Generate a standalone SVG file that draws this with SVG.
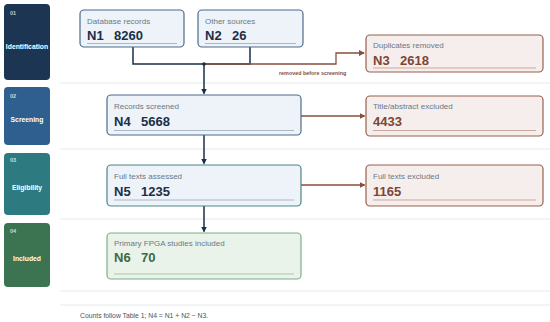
<svg xmlns="http://www.w3.org/2000/svg" width="550" height="322" viewBox="0 0 550 322">
<style>
text{font-family:"Liberation Sans",Arial,sans-serif}
.stg{fill:#fff;font-weight:bold;font-size:6.8px;text-anchor:middle}
.num{fill:#fff;fill-opacity:0.75;font-weight:bold;font-size:5.5px}
.lbl{fill:#6b7785;font-size:8px}
.big{font-weight:bold;font-size:13px}
.nb{fill:#1c2e48}.nr{fill:#7d4535}.ng{fill:#3a6b42}
.bx{fill:#edf3f9;stroke:#4d6b8a;stroke-width:1.2}
.bt{fill:#edf3f8;stroke:#4a8585;stroke-width:1.2}
.br{fill:#f6eeec;stroke:#96604f;stroke-width:1.2}
.bg{fill:#eaf3ea;stroke:#7fae8a;stroke-width:1.2}
.ub{stroke:#aab8c8;stroke-width:1}.ur{stroke:#c9a89e;stroke-width:1}.ug{stroke:#a9c6ad;stroke-width:1}
.sep{stroke:#eef0f2;stroke-width:1.5}
.cd{fill:none;stroke:#1a2e4a;stroke-width:1.5}
.cr{fill:none;stroke:#8a4e3e;stroke-width:1.3}
</style>
<defs>
<marker id="ad" markerWidth="6" markerHeight="6" refX="5" refY="3" orient="auto" markerUnits="userSpaceOnUse"><path d="M0,0 L6,3 L0,6 z" fill="#1a2e4a"/></marker>
<marker id="ar" markerWidth="6" markerHeight="6" refX="5" refY="3" orient="auto" markerUnits="userSpaceOnUse"><path d="M0,0 L6,3 L0,6 z" fill="#8a4e3e"/></marker>
</defs>
<rect width="550" height="322" fill="#ffffff"/>
<g id="separators">
<line class="sep" x1="60" y1="83" x2="550" y2="83"/>
<line class="sep" x1="60" y1="149" x2="550" y2="149"/>
<line class="sep" x1="60" y1="219" x2="550" y2="219"/>
<line class="sep" x1="60" y1="291" x2="550" y2="291"/>
<line class="sep" x1="60" y1="305" x2="550" y2="305"/>
</g>
<g id="stage-identification"><rect x="4" y="4" width="46" height="76" rx="4" fill="#1b3553"/><text class="num" x="10" y="15">01</text><text class="stg" x="27" y="48.5">Identification</text></g>
<g id="stage-screening"><rect x="4" y="87" width="46" height="58" rx="4" fill="#2f5f8e"/><text class="num" x="10" y="98">02</text><text class="stg" x="27" y="121.5">Screening</text></g>
<g id="stage-eligibility"><rect x="4" y="153" width="46" height="62" rx="4" fill="#2d7b80"/><text class="num" x="10" y="162">03</text><text class="stg" x="27" y="189.5">Eligibility</text></g>
<g id="stage-included"><rect x="4" y="223" width="46" height="64" rx="4" fill="#3c7350"/><text class="num" x="10" y="233">04</text><text class="stg" x="27" y="261">Included</text></g>
<g id="connectors">
<path class="cd" d="M133,47 V64 H250 V47"/>
<path class="cr" d="M204,64 H336 V53 H364" marker-end="url(#ar)"/>
<circle cx="204" cy="64" r="1.8" fill="#1a2e4a"/>
<path class="cd" d="M204,64 V93.5" marker-end="url(#ad)"/>
<path class="cd" d="M204,135 V163.5" marker-end="url(#ad)"/>
<path class="cd" d="M204,206 V231.5" marker-end="url(#ad)"/>
<path class="cr" d="M301,116 H364.5" marker-end="url(#ar)"/>
<path class="cr" d="M301,185 H364.5" marker-end="url(#ar)"/>
<text x="279" y="74.5" font-size="5.4" font-weight="bold" fill="#8a4e3e">removed before screening</text>
</g>
<g id="n1"><rect class="bx" x="80" y="10" width="104" height="37" rx="4"/><text class="lbl" x="87" y="23.5">Database records</text><text class="big nb" x="87" y="40">N1</text><text class="big nb" x="114" y="40">8260</text><line class="ub" x1="87" y1="43.5" x2="177" y2="43.5"/></g>
<g id="n2"><rect class="bx" x="198" y="10" width="105" height="37" rx="4"/><text class="lbl" x="205" y="23.5">Other sources</text><text class="big nb" x="205" y="40">N2</text><text class="big nb" x="232" y="40">26</text><line class="ub" x1="205" y1="43.5" x2="296" y2="43.5"/></g>
<g id="n3"><rect class="br" x="366" y="35" width="177" height="37" rx="4"/><text class="lbl" x="373" y="47.5">Duplicates removed</text><text class="big nr" x="373" y="65">N3</text><text class="big nr" x="400" y="65">2618</text><line class="ur" x1="373" y1="68" x2="536" y2="68"/></g>
<g id="n4"><rect class="bx" x="107" y="95" width="194" height="40" rx="4"/><text class="lbl" x="114" y="109">Records screened</text><text class="big nb" x="114" y="125.5">N4</text><text class="big nb" x="141" y="125.5">5668</text><line class="ub" x1="114" y1="130.5" x2="294" y2="130.5"/></g>
<g id="tae"><rect class="br" x="366" y="96" width="177" height="40" rx="4"/><text class="lbl" x="373" y="109">Title/abstract excluded</text><text class="big nr" x="373" y="125.5">4433</text><line class="ur" x1="373" y1="130.5" x2="536" y2="130.5"/></g>
<g id="n5"><rect class="bt" x="107" y="165" width="194" height="41" rx="4"/><text class="lbl" x="114" y="178.5">Full texts assessed</text><text class="big nb" x="114" y="195.5">N5</text><text class="big nb" x="141" y="195.5">1235</text><line class="ub" x1="114" y1="200" x2="294" y2="200"/></g>
<g id="fte"><rect class="br" x="366" y="165" width="177" height="41" rx="4"/><text class="lbl" x="373" y="178.5">Full texts excluded</text><text class="big nr" x="373" y="195.5">1165</text><line class="ur" x1="373" y1="200" x2="536" y2="200"/></g>
<g id="n6"><rect class="bg" x="107" y="233" width="194" height="46" rx="4"/><text class="lbl" x="114" y="245.5">Primary FPGA studies included</text><text class="big ng" x="114" y="262">N6</text><text class="big ng" x="141" y="262">70</text><line class="ug" x1="114" y1="274" x2="294" y2="274"/></g>
<text x="80" y="318" font-size="6.8" fill="#4a5560">Counts follow Table 1; N4 = N1 + N2 − N3.</text>
</svg>
